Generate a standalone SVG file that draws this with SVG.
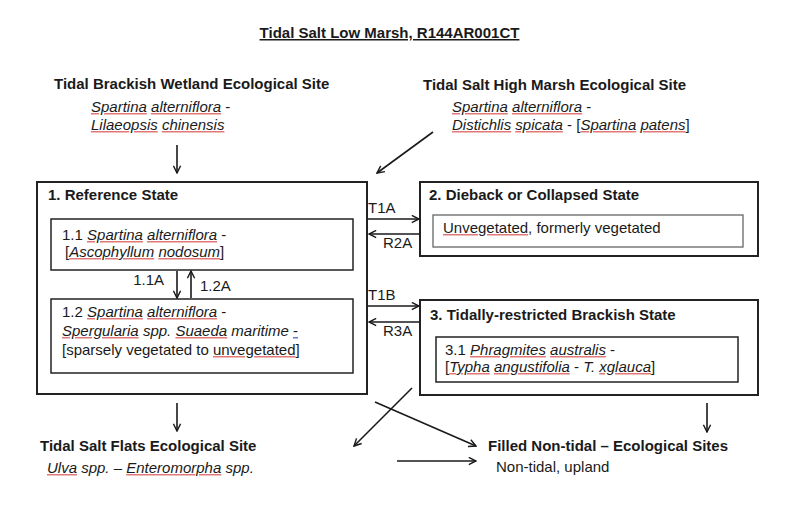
<svg xmlns="http://www.w3.org/2000/svg" width="800" height="511" viewBox="0 0 800 511">
<defs>
<style>
text{font-family:"Liberation Sans",Arial,sans-serif;font-size:15px;fill:#1a1a1a}
.b{font-weight:bold}
.i{font-style:italic}
.sp{text-decoration:underline;fill:#e07878}
.gr{text-decoration:underline;fill:#6a7ad0}
.k{fill:#1a1a1a}
.box{fill:#fff;stroke:#222;stroke-width:2}
.inner{fill:#fff;stroke:#222;stroke-width:1.5}
.innerg{fill:#fff;stroke:#666;stroke-width:1.3}
.c{fill:none;stroke:#1a1a1a;stroke-width:1.6;marker-end:url(#ah)}
</style>
<marker id="ah" viewBox="0 0 10 10" refX="9" refY="5" markerWidth="9" markerHeight="9" markerUnits="userSpaceOnUse" orient="auto">
<path d="M1,1 L9,5 L1,9" fill="none" stroke="#1a1a1a" stroke-width="1.6"/>
</marker>
</defs>
<rect width="800" height="511" fill="#fff"/>

<g id="title">
<text x="389.5" y="38" text-anchor="middle" class="b" style="text-decoration:underline">Tidal Salt Low Marsh, R144AR001CT</text>
</g>

<g id="brackish-site">
<text x="54" y="89" class="b">Tidal Brackish Wetland Ecological Site</text>
<text x="91" y="112"><tspan class="i sp"><tspan class="k">Spartina</tspan></tspan> <tspan class="i sp"><tspan class="k">alterniflora</tspan></tspan> -</text>
<text x="91" y="130"><tspan class="i sp"><tspan class="k">Lilaeopsis</tspan></tspan> <tspan class="i sp"><tspan class="k">chinensis</tspan></tspan></text>
</g>

<g id="high-marsh-site">
<text x="423" y="90" class="b">Tidal Salt High Marsh Ecological Site</text>
<text x="452" y="112"><tspan class="i sp"><tspan class="k">Spartina</tspan></tspan> <tspan class="i sp"><tspan class="k">alterniflora</tspan></tspan> -</text>
<text x="452" y="130"><tspan class="i sp"><tspan class="k">Distichlis</tspan></tspan> <tspan class="i sp"><tspan class="k">spicata</tspan></tspan> - [<tspan class="i sp"><tspan class="k">Spartina</tspan></tspan> <tspan class="i sp"><tspan class="k">patens</tspan></tspan>]</text>
</g>

<g id="reference-state">
<rect class="box" x="37" y="182" width="330" height="212"/>
<text x="48" y="200" class="b">1. Reference State</text>
</g>

<g id="phase-1-1">
<rect class="inner" x="51" y="219" width="302" height="51"/>
<text x="62" y="240">1.1 <tspan class="i sp"><tspan class="k">Spartina</tspan></tspan> <tspan class="i sp"><tspan class="k">alterniflora</tspan></tspan> -</text>
<text x="65" y="257">[<tspan class="i sp"><tspan class="k">Ascophyllum</tspan></tspan> <tspan class="i sp"><tspan class="k">nodosum</tspan></tspan>]</text>
</g>

<g id="phase-1-2">
<rect class="inner" x="51" y="299" width="302" height="74"/>
<text x="62" y="317">1.2 <tspan class="i sp"><tspan class="k">Spartina</tspan></tspan> <tspan class="i sp"><tspan class="k">alterniflora</tspan></tspan> -</text>
<text x="62" y="336"><tspan class="i sp"><tspan class="k">Spergularia</tspan></tspan> <tspan class="i">spp.</tspan> <tspan class="i sp"><tspan class="k">Suaeda</tspan></tspan> <tspan class="i">maritime</tspan> <tspan class="gr"><tspan class="k">-</tspan></tspan></text>
<text x="62" y="355">[sparsely vegetated to <tspan class="sp"><tspan class="k">unvegetated</tspan></tspan>]</text>
</g>

<g id="dieback-state">
<rect class="box" x="420" y="182" width="338" height="74"/>
<text x="429" y="200" class="b">2. Dieback or Collapsed State</text>
<rect class="innerg" x="433" y="215" width="310" height="32"/>
<text x="443" y="233"><tspan class="sp"><tspan class="k">Unvegetated</tspan></tspan>, formerly vegetated</text>
</g>

<g id="brackish-state">
<rect class="box" x="420" y="300" width="338" height="95"/>
<text x="430" y="320" class="b">3. Tidally-restricted Brackish State</text>
</g>

<g id="phase-3-1">
<rect class="inner" x="436" y="337" width="302" height="45"/>
<text x="445" y="355">3.1 <tspan class="i sp"><tspan class="k">Phragmites</tspan></tspan> <tspan class="i sp"><tspan class="k">australis</tspan></tspan> -</text>
<text x="445" y="372">[<tspan class="i sp"><tspan class="k">Typha</tspan></tspan> <tspan class="i sp"><tspan class="k">angustifolia</tspan></tspan> - <tspan class="i">T.</tspan> <tspan class="i sp"><tspan class="k">xglauca</tspan></tspan>]</text>
</g>

<g id="salt-flats-site">
<text x="40" y="451" class="b">Tidal Salt Flats Ecological Site</text>
<text x="47" y="473"><tspan class="i sp"><tspan class="k">Ulva</tspan></tspan><tspan class="i"> spp. – </tspan><tspan class="i sp"><tspan class="k">Enteromorpha</tspan></tspan><tspan class="i"> spp.</tspan></text>
</g>

<g id="filled-site">
<text x="488" y="451" class="b">Filled Non-tidal – Ecological Sites</text>
<text x="496" y="472">Non-tidal, upland</text>
</g>

<g id="connectors">
<line class="c" x1="177" y1="145" x2="177" y2="173"/>
<line class="c" x1="433" y1="132" x2="377" y2="173"/>
<line class="c" x1="177" y1="271" x2="177" y2="298"/>
<line class="c" x1="191" y1="298" x2="191" y2="271"/>
<line class="c" x1="368" y1="219" x2="419" y2="219"/>
<line class="c" x1="420" y1="234" x2="369" y2="234"/>
<line class="c" x1="368" y1="306" x2="419" y2="306"/>
<line class="c" x1="420" y1="322" x2="369" y2="322"/>
<line class="c" x1="177" y1="403" x2="177" y2="431"/>
<line class="c" x1="707" y1="403" x2="707" y2="432"/>
<line class="c" x1="412" y1="388" x2="354" y2="446"/>
<line class="c" x1="375" y1="402" x2="476" y2="446"/>
<line class="c" x1="397" y1="461" x2="476" y2="461"/>
<text x="368" y="213">T1A</text>
<text x="383" y="248">R2A</text>
<text x="368" y="300">T1B</text>
<text x="383" y="336">R3A</text>
<text x="164" y="285" text-anchor="end">1.1A</text>
<text x="200" y="291">1.2A</text>
</g>
</svg>
